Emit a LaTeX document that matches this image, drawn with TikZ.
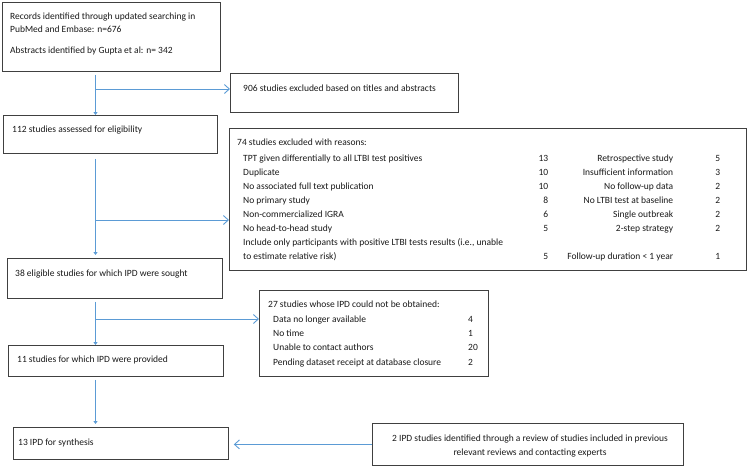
\documentclass[tikz,border=0pt]{standalone}
\usepackage{fontspec}
\setmainfont{Carlito}
\usepackage{array}
\usetikzlibrary{arrows.meta,calc}
\definecolor{arrowblue}{HTML}{5B9BD5}
\definecolor{boxgray}{HTML}{404040}
\tikzstyle{every node}=[font=\fontsize{9.5}{13}\selectfont]
\tikzstyle{box}=[draw=boxgray,line width=0.8pt,anchor=north west,inner sep=0pt]
\tikzstyle{txt}=[anchor=base west,inner sep=0pt,text=black!90]
\tikzstyle{down}=[draw=arrowblue,line width=0.9pt,shorten <=3pt,-{Triangle[length=3pt,width=4pt]}]
\tikzstyle{side}=[draw=arrowblue,line width=0.9pt,-{Straight Barb[length=5pt,width=9pt]}]

\begin{document}
\begin{tikzpicture}[x=1pt,y=-1pt]
\useasboundingbox (0,0) rectangle (747,467);
\node[box,minimum width=218pt,minimum height=69pt] (rec) at (2,2) {};
\node[box,minimum width=228pt,minimum height=39pt] (titles) at (230,73) {};
\node[box,minimum width=214pt,minimum height=38pt] (elig) at (3,115) {};
\node[box,minimum width=517pt,minimum height=142pt] (reasons) at (229,128) {};
\node[box,minimum width=215pt,minimum height=40pt] (sought) at (7,258) {};
\node[box,minimum width=229pt,minimum height=86pt] (noipd) at (259,290) {};
\node[box,minimum width=215pt,minimum height=31pt] (given) at (8,345) {};
\node[box,minimum width=215pt,minimum height=32pt] (synth) at (13,427) {};
\node[box,minimum width=311pt,minimum height=42pt] (extra) at (372,423) {};

\node[txt] (rec-t) at (10,19) {\begin{tabular}[t]{@{}l@{}}Records identified through updated searching in\\PubMed and Embase: n=676\\[8pt]Abstracts identified by Gupta et al: n= 342\end{tabular}};
\node[txt] (titles-t) at (243,91) {906 studies excluded based on titles and abstracts};
\node[txt] (elig-t) at (12,132) {112 studies assessed for eligibility};
\node[txt,font=\fontsize{9.5}{14}\selectfont] (reasons-t) at (237,145) {\begin{tabular}[t]{@{}p{6pt}@{}>{\raggedright\arraybackslash}p{285pt}@{}>{\raggedleft\arraybackslash}p{20pt}@{}>{\raggedleft\arraybackslash}p{125pt}@{}>{\raggedleft\arraybackslash}p{47pt}@{}}
\multicolumn{5}{@{}l@{}}{74 studies excluded with reasons:}\\[2pt]
&TPT given differentially to all LTBI test positives&13&Retrospective study&5\\
&Duplicate&10&Insufficient information&3\\
&No associated full text publication&10&No follow-up data&2\\
&No primary study&8&No LTBI test at baseline&2\\
&Non-commercialized IGRA&6&Single outbreak&2\\
&No head-to-head study&5&2-step strategy&2\\
&Include only participants with positive LTBI tests results (i.e., unable&&&\\
&to estimate relative risk)&5&Follow-up duration < 1 year&1
\end{tabular}};
\node[txt] (sought-t) at (15,276) {38 eligible studies for which IPD were sought};
\node[txt,font=\fontsize{9.5}{14.3}\selectfont] (noipd-t) at (268,307) {\begin{tabular}[t]{@{}p{5pt}@{}p{195pt}@{}l@{}}
\multicolumn{3}{@{}l@{}}{27 studies whose IPD could not be obtained:}\\[1pt]
&Data no longer available&4\\
&No time&1\\
&Unable to contact authors&20\\
&Pending dataset receipt at database closure&2
\end{tabular}};
\node[txt] (given-t) at (17,362) {11 studies for which IPD were provided};
\node[txt] (synth-t) at (18,445) {13 IPD for synthesis};
\node[txt,anchor=base,font=\fontsize{9.5}{14}\selectfont] (extra-t) at (530,441) {\begin{tabular}[t]{@{}c@{}}2 IPD studies identified through a review of studies included in previous\\relevant reviews and contacting experts\end{tabular}};

\coordinate (spine) at (95.5,0);
\coordinate (b1) at (95.5,89);
\coordinate (b2) at (95.5,220);
\coordinate (b3) at (95.5,319);
\draw[down] (rec.south -| spine) -- (elig.north -| spine);
\draw[down,shorten <=5pt,shorten >=3pt] (elig.south -| spine) -- (sought.north -| spine);
\draw[down] (sought.south -| spine) -- (given.north -| spine);
\draw[down,shorten >=3pt] (given.south -| spine) -- (synth.north -| spine);
\draw[side] (b1) -- (b1 -| titles.west);
\draw[side] (b2) -- (b2 -| reasons.west);
\draw[side] (b3) -- (b3 -| noipd.west);
\draw[side,shorten >=5pt] (extra.west) -- (extra.west -| synth.east);
\end{tikzpicture}
\end{document}
